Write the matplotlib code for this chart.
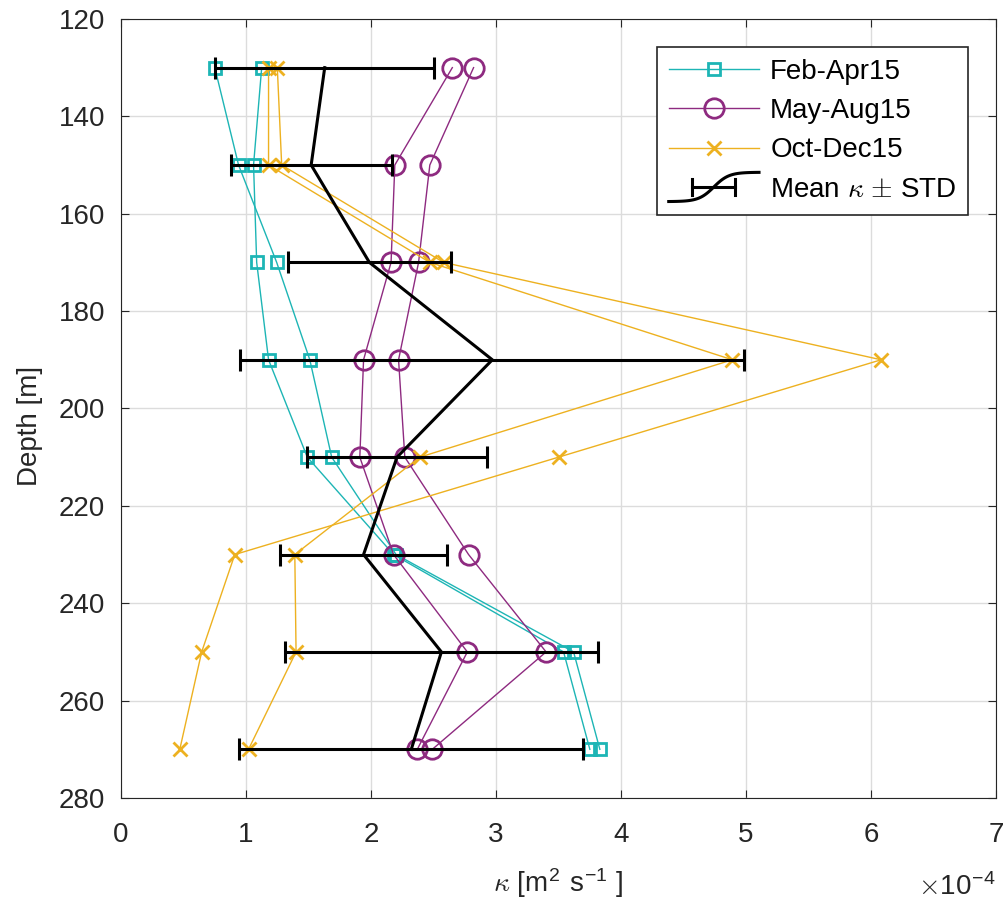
import numpy as np
import matplotlib.pyplot as plt
from matplotlib.lines import Line2D
from matplotlib.legend_handler import HandlerBase

plt.rcParams['font.family'] = ['Liberation Sans', 'DejaVu Sans']
plt.rcParams['mathtext.fontset'] = 'cm'

# depth levels [m]
depth = [130, 150, 170, 190, 210, 230, 250, 270]

# diffusivity profiles, units of 1e-4 m^2/s (two records per period)
feb_apr_a = [0.75, 0.94, 1.245, 1.51, 1.685, 2.20, 3.62, 3.83]
feb_apr_b = [1.125, 1.06, 1.085, 1.18, 1.49, 2.18, 3.54, 3.75]
may_aug_a = [2.65, 2.19, 2.16, 1.94, 1.91, 2.18, 2.77, 2.37]
may_aug_b = [2.82, 2.47, 2.38, 2.22, 2.27, 2.78, 3.40, 2.49]
oct_dec_a = [1.25, 1.285, 2.58, 6.08, 3.50, 0.91, 0.645, 0.47]
oct_dec_b = [1.18, 1.18, 2.47, 4.89, 2.39, 1.39, 1.40, 1.02]

teal = '#1DB5B5'
purple = '#8E2A80'
orange = '#EDB120'
dark = '#262626'
fs = 20


class ProfileErrHandler(HandlerBase):
    # legend key: s-shaped profile with a horizontal error bar across it
    def create_artists(self, legend, orig_handle, xdescent, ydescent,
                       width, height, fontsize, trans):
        x0 = -xdescent
        yc = height / 2 - ydescent
        t = np.linspace(0, 1, 60)
        s = np.tanh((t - 0.5) * 6) / np.tanh(3)
        curve = Line2D(x0 + t * width, yc + 0.75 * height * s, color='black', lw=2.2)
        xa, xb = x0 + 0.26 * width, x0 + 0.73 * width
        cap = 0.4 * height
        bar = Line2D([xa, xb], [yc, yc], color='black', lw=2.2)
        cap_a = Line2D([xa, xa], [yc - cap, yc + cap], color='black', lw=2.2)
        cap_b = Line2D([xb, xb], [yc - cap, yc + cap], color='black', lw=2.2)
        arts = [curve, bar, cap_a, cap_b]
        for a in arts:
            a.set_transform(trans)
        return arts


# mean and std over all records at each depth
all_k = np.array([feb_apr_a, feb_apr_b, may_aug_a, may_aug_b, oct_dec_a, oct_dec_b])
mean_k = all_k.mean(axis=0)
std_k = all_k.std(axis=0, ddof=1)

fig = plt.figure(figsize=(10.07, 9.02), dpi=100)
ax = fig.add_axes([0.1202, 0.1153, 0.869, 0.8637])

ax.plot(feb_apr_a, depth, '-s', color=teal, lw=1.0, ms=8, mfc='none', mew=2, label='Feb-Apr15')
ax.plot(feb_apr_b, depth, '-s', color=teal, lw=1.0, ms=8, mfc='none', mew=2)
ax.plot(may_aug_a, depth, '-o', color=purple, lw=1.0, ms=14, mfc='none', mew=2, label='May-Aug15')
ax.plot(may_aug_b, depth, '-o', color=purple, lw=1.0, ms=14, mfc='none', mew=2)
ax.plot(oct_dec_a, depth, '-x', color=orange, lw=1.0, ms=10, mew=2, label='Oct-Dec15')
ax.plot(oct_dec_b, depth, '-x', color=orange, lw=1.0, ms=10, mew=2)

eb = ax.errorbar(mean_k, depth, xerr=std_k, color='black', lw=2.2, elinewidth=2.2,
                 capsize=8, capthick=2.2)

ax.set_xlim(0, 7)
ax.set_ylim(280, 120)
ax.set_xticks(range(0, 8))
ax.set_yticks(range(120, 281, 20))
ax.grid(True, color='#DCDCDC', lw=1)
ax.set_axisbelow(True)
ax.tick_params(labelsize=fs, direction='in', length=6, color=dark, labelcolor=dark)
ax.tick_params(axis='x', pad=17)
ax.tick_params(axis='y', pad=11.5)
for sp in ax.spines.values():
    sp.set_color(dark)
ax.tick_params(top=True, right=True)

ax.set_ylabel('Depth [m]', fontsize=fs, color=dark)
ax.yaxis.set_label_coords(-0.089, 0.478)
# x label and exponent drawn as axes text
ax.text(0.5, -0.1207, r'$\kappa$ [m$^\mathregular{2}$ s$^\mathregular{-1}$ ]', transform=ax.transAxes,
        fontsize=fs, ha='center', va='baseline', color=dark)
ax.text(0.999, -0.1245, r'$\times$10$^\mathregular{-4}$', transform=ax.transAxes, fontsize=fs,
        ha='right', va='baseline', color=dark)

handles, labels = ax.get_legend_handles_labels()
handles.append(eb)
labels.append(r'Mean $\kappa$ $\pm$ STD')
leg = ax.legend(handles, labels, loc='upper right', fontsize=fs, frameon=True, fancybox=False,
                edgecolor=dark, framealpha=1, borderaxespad=1.0, borderpad=0.43,
                handlelength=3.25, handletextpad=0.4, labelspacing=0.48,
                handler_map={type(eb): ProfileErrHandler()})
leg.get_frame().set_linewidth(1.2)
for t in leg.get_texts():
    t.set_color('black')

fig.savefig('out.png', dpi=100)
